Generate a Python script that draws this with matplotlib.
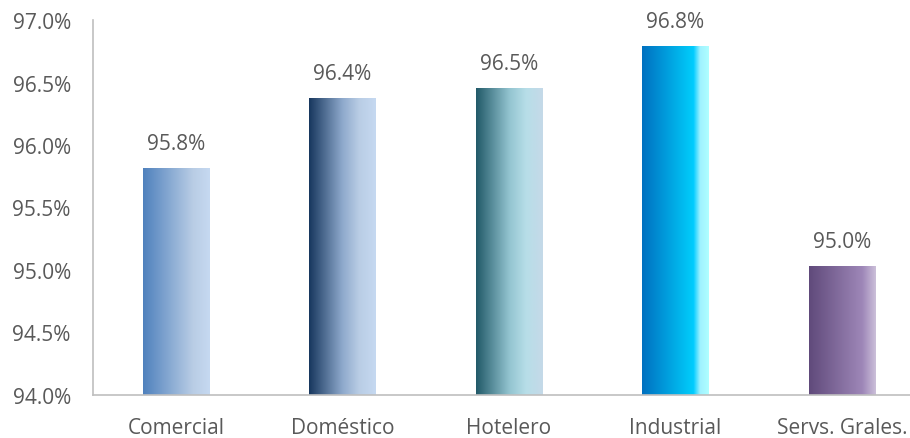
import numpy as np
import matplotlib.pyplot as plt
from matplotlib.colors import LinearSegmentedColormap
from matplotlib.ticker import FuncFormatter

categories = ["Comercial", "Doméstico", "Hotelero", "Industrial", "Servs. Grales."]
values = [95.82, 96.38, 96.46, 96.79, 95.03]
y_ticks = [94.0, 94.5, 95.0, 95.5, 96.0, 96.5, 97.0]

# horizontal gradient stops for each bar (position, colour)
gradients = [
    [(0.0, "#4F81BD"), (0.75, "#B9CDE5"), (1.0, "#C6D9F1")],
    [(0.0, "#17375E"), (0.5, "#8EA9CC"), (0.75, "#B9CDE5"), (1.0, "#C6D9F1")],
    [(0.0, "#215968"), (0.5, "#93C4D0"), (0.75, "#B7DEE8"), (1.0, "#C5D9E8")],
    [(0.0, "#0070C0"), (0.72, "#00C8F8"), (0.77, "#00CCFF"), (0.87, "#A0F2FF"), (1.0, "#B0FFFF")],
    [(0.0, "#604A7B"), (0.8, "#9E87B8"), (1.0, "#CCC0DA")],
]

text_color = "#595959"
font_size = 15
plt.rcParams["font.family"] = ["Open Sans", "DejaVu Sans"]

fig = plt.figure(figsize=(9.10, 4.39), dpi=100)
ax = fig.add_axes([93 / 910, 1 - 396 / 439, 832 / 910, 375 / 439])

x = np.arange(len(categories))
bars = ax.bar(x, [v - y_ticks[0] for v in values], width=0.40, bottom=y_ticks[0],
              color="none", edgecolor="none")

ramp = np.linspace(0, 1, 256).reshape(1, -1)
for bar, stops, v in zip(bars, gradients, values):
    cmap = LinearSegmentedColormap.from_list("bar", stops)
    x0, y0 = bar.get_x(), bar.get_y()
    w, h = bar.get_width(), bar.get_height()
    img = ax.imshow(ramp, cmap=cmap, aspect="auto", interpolation="bilinear",
                    extent=(x0, x0 + w, y0, y0 + h), zorder=2)
    img.set_clip_path(bar)
    ax.text(x0 + w / 2, v + 0.11, f"{v:.1f}%", ha="center", va="bottom",
            fontsize=font_size, color=text_color)

ax.set_xlim(-0.5, len(categories) - 0.5)
ax.set_ylim(y_ticks[0], y_ticks[-1])
ax.set_yticks(y_ticks)
ax.yaxis.set_major_formatter(FuncFormatter(lambda v, _: f"{v:.1f}%"))
ax.set_xticks(x)
ax.set_xticklabels(categories)
ax.tick_params(axis="both", length=0, labelsize=font_size, labelcolor=text_color)
ax.tick_params(axis="x", pad=16)
ax.tick_params(axis="y", pad=16)

for side in ("top", "right"):
    ax.spines[side].set_visible(False)
for side in ("left", "bottom"):
    ax.spines[side].set_color("#BFBFBF")
    ax.spines[side].set_linewidth(1.2)

fig.savefig("out.png", dpi=100)
